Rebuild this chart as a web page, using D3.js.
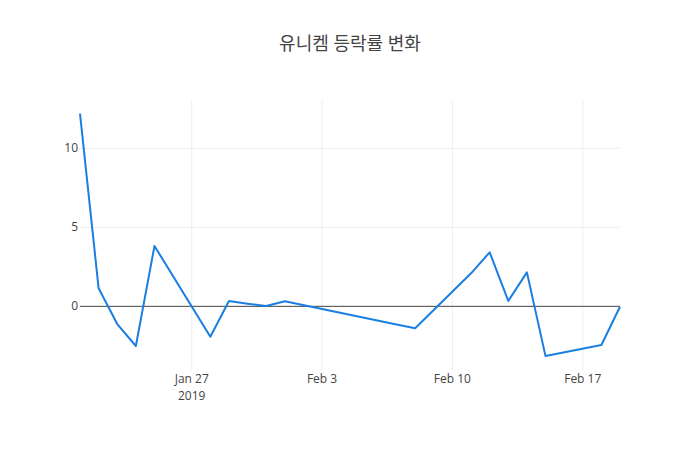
<!DOCTYPE html>
<html>
<head>
<meta charset="utf-8">
<script src="https://cdn.jsdelivr.net/npm/d3@7"></script>
<style>
  body { margin: 0; background: #fff; }
  text { font-family: "Open Sans", "Noto Sans CJK KR", sans-serif; }
</style>
</head>
<body>
<svg id="vis" width="700" height="450"></svg>
<script>
const svg = d3.select("#vis");

const TITLE = "유니켐 등락률 변화";
// trading days (Lunar New Year break Feb 4-6)
const DATES = ["2019-01-21", "2019-01-22", "2019-01-23", "2019-01-24", "2019-01-25",
  "2019-01-28", "2019-01-29", "2019-01-30", "2019-01-31", "2019-02-01",
  "2019-02-07", "2019-02-08", "2019-02-11", "2019-02-12", "2019-02-13",
  "2019-02-14", "2019-02-15", "2019-02-18", "2019-02-19"];
const RATES = [12.2, 1.14, -1.12, -2.51, 3.82,
  -1.92, 0.34, 0.17, 0.02, 0.32,
  -1.15, -1.39, 2.09, 3.42, 0.34,
  2.15, -3.15, -2.45, -0.03];
const Y_TICKS = [0, 5, 10];
const X_TICKS = ["2019-01-27", "2019-02-03", "2019-02-10", "2019-02-17"];

const W = 700, H = 450;
const margin = {l: 80, r: 80, t: 100, b: 80};
const parse = d3.utcParse("%Y-%m-%d");

const data = DATES.map((d, i) => ({date: parse(d), v: RATES[i]}));

const x = d3.scaleUtc()
  .domain(d3.extent(data, d => d.date))
  .range([margin.l, W - margin.r]);
const y = d3.scaleLinear()
  .domain([-4.03, 13.06])
  .range([H - margin.b, margin.t]);

// grid
svg.append("g").selectAll("line").data(X_TICKS.map(parse)).join("line")
  .attr("x1", d => x(d)).attr("x2", d => x(d))
  .attr("y1", margin.t).attr("y2", H - margin.b)
  .attr("stroke", "#eee").attr("stroke-width", 1);
svg.append("g").selectAll("line").data(Y_TICKS.filter(t => t !== 0)).join("line")
  .attr("x1", margin.l).attr("x2", W - margin.r)
  .attr("y1", d => y(d)).attr("y2", d => y(d))
  .attr("stroke", "#eee").attr("stroke-width", 1);

// zero line
svg.append("line")
  .attr("x1", margin.l).attr("x2", W - margin.r)
  .attr("y1", y(0)).attr("y2", y(0))
  .attr("stroke", "#444").attr("stroke-width", 1);

// y labels
svg.append("g").selectAll("text").data(Y_TICKS).join("text")
  .attr("x", margin.l - 2).attr("y", d => y(d) + 4)
  .attr("text-anchor", "end")
  .attr("font-size", 12).attr("fill", "#444")
  .text(d => d);

// x labels
const fmt = d3.utcFormat("%b %-d");
const xl = svg.append("g").selectAll("text").data(X_TICKS.map(parse)).join("text")
  .attr("x", d => x(d)).attr("y", H - margin.b + 13)
  .attr("text-anchor", "middle")
  .attr("font-size", 12).attr("fill", "#444");
xl.append("tspan").attr("x", d => x(d)).attr("dy", 0).text(d => fmt(d));
xl.filter((d, i) => i === 0).append("tspan")
  .attr("x", d => x(d)).attr("dy", 17).text("2019");

// series
const line = d3.line().x(d => x(d.date)).y(d => y(d.v));
svg.append("path").datum(data)
  .attr("d", line)
  .attr("fill", "none")
  .attr("stroke", "#1a7fe0")
  .attr("stroke-width", 2)
  .attr("stroke-linejoin", "round");

// title
svg.append("text")
  .attr("x", W / 2).attr("y", 50)
  .attr("text-anchor", "middle")
  .attr("font-size", 18).attr("fill", "#444")
  .text(TITLE);
</script>
</body>
</html>
